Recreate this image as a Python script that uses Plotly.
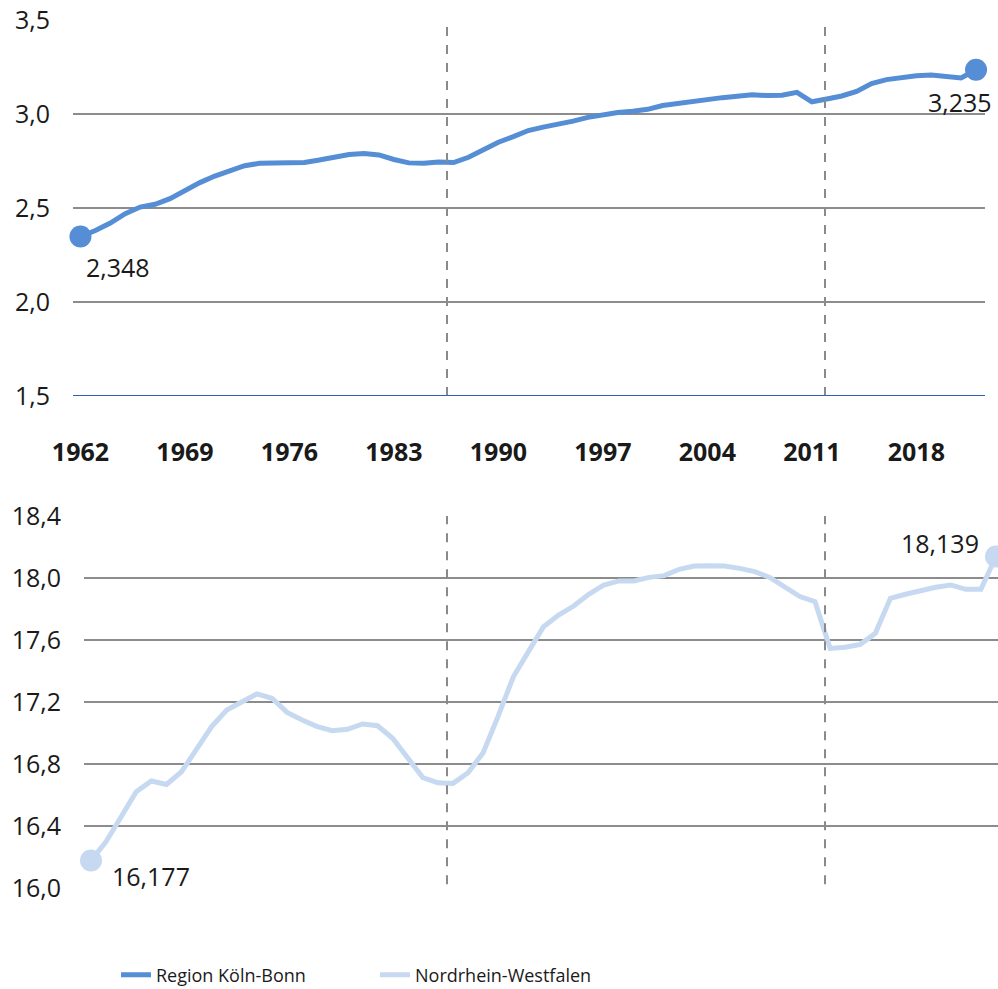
import plotly.graph_objects as go

years = list(range(1962, 2023))

koeln_bonn = [
    2.348, 2.380, 2.420, 2.470, 2.505, 2.520, 2.550, 2.595, 2.635, 2.670,
    2.700, 2.725, 2.738, 2.738, 2.740, 2.742, 2.755, 2.770, 2.785, 2.790,
    2.782, 2.758, 2.740, 2.738, 2.745, 2.742, 2.770, 2.810, 2.850, 2.880,
    2.912, 2.930, 2.945, 2.962, 2.982, 2.998, 3.008, 3.015, 3.025, 3.045,
    3.057, 3.065, 3.075, 3.087, 3.095, 3.102, 3.098, 3.100, 3.115, 3.065,
    3.080, 3.096, 3.120, 3.162, 3.183, 3.196, 3.204, 3.207, 3.200, 3.192,
    3.235,
]

nrw = [
    16.177, 16.299, 16.460, 16.621, 16.690, 16.668, 16.750, 16.901, 17.041, 17.148,
    17.202, 17.252, 17.224, 17.133, 17.084, 17.041, 17.015, 17.024, 17.058, 17.047,
    16.966, 16.837, 16.712, 16.679, 16.675, 16.744, 16.873, 17.110, 17.363, 17.525,
    17.686, 17.761, 17.819, 17.895, 17.955, 17.981, 17.981, 18.004, 18.015, 18.056,
    18.077, 18.079, 18.077, 18.062, 18.041, 18.004, 17.944, 17.880, 17.847, 17.546,
    17.553, 17.572, 17.643, 17.869, 17.895, 17.918, 17.940, 17.955, 17.927, 17.927,
    18.139,
]

top_ticks = [1.5, 2.0, 2.5, 3.0, 3.5]
top_ticklabels = ["1,5", "2,0", "2,5", "3,0", "3,5"]
bottom_ticks = [16.0, 16.4, 16.8, 17.2, 17.6, 18.0, 18.4]
bottom_ticklabels = ["16,0", "16,4", "16,8", "17,2", "17,6", "18,0", "18,4"]
x_ticks = [1962, 1969, 1976, 1983, 1990, 1997, 2004, 2011, 2018]

name_top = "Region Köln-Bonn"
name_bottom = "Nordrhein-Westfalen"

C_TOP = "#558ED5"
C_BOT = "#C6D9F1"
GRID = "#8C8C8C"
TXT = "#1A1A1A"
FONT = "Open Sans, Noto Sans, sans-serif"

W, H = 998, 989


def fmt(v):
    return f"{v:.3f}".replace(".", ",")


fig = go.Figure()

fig.add_trace(go.Scatter(
    x=years, y=koeln_bonn, mode="lines", name=name_top,
    line=dict(color=C_TOP, width=5), xaxis="x", yaxis="y", showlegend=True,
))
fig.add_trace(go.Scatter(
    x=[years[0], years[-1]], y=[koeln_bonn[0], koeln_bonn[-1]], mode="markers",
    marker=dict(color=C_TOP, size=22), xaxis="x", yaxis="y", showlegend=False,
    cliponaxis=False, hoverinfo="skip",
))
fig.add_trace(go.Scatter(
    x=years, y=nrw, mode="lines", name=name_bottom,
    line=dict(color=C_BOT, width=5), xaxis="x2", yaxis="y2", showlegend=True,
))
fig.add_trace(go.Scatter(
    x=[years[0], years[-1]], y=[nrw[0], nrw[-1]], mode="markers",
    marker=dict(color=C_BOT, size=22), xaxis="x2", yaxis="y2", showlegend=False,
    cliponaxis=False, hoverinfo="skip",
))

annos = [
    dict(x=years[0], y=koeln_bonn[0], xref="x", yref="y", text=fmt(koeln_bonn[0]),
         xanchor="left", yanchor="middle", xshift=4, yshift=-30),
    dict(x=years[-1], y=koeln_bonn[-1], xref="x", yref="y", text=fmt(koeln_bonn[-1]),
         xanchor="right", yanchor="middle", xshift=18, yshift=-32),
    dict(x=years[0], y=nrw[0], xref="x2", yref="y2", text=fmt(nrw[0]),
         xanchor="left", yanchor="middle", xshift=19, yshift=-15),
    dict(x=years[-1], y=nrw[-1], xref="x2", yref="y2", text=fmt(nrw[-1]),
         xanchor="right", yanchor="middle", xshift=-15, yshift=13),
]
for a in annos:
    a.update(showarrow=False, font=dict(family=FONT, size=25, color=TXT))

# vertical dashed divider lines (pixel positions of the reference)
divider_px = [447, 825]
shapes = []
for px in divider_px:
    shapes.append(dict(type="line", xref="paper", x0=px / W, x1=px / W,
                       yref="y domain", y0=0, y1=0.99,
                       line=dict(color="#8A8A8A", width=2, dash="dash")))
    shapes.append(dict(type="line", xref="paper", x0=px / W, x1=px / W,
                       yref="y2 domain", y0=0.01, y1=1,
                       line=dict(color="#8A8A8A", width=2, dash="dash")))

fig.update_layout(
    template="none",
    width=W, height=H,
    margin=dict(l=0, r=0, t=0, b=0, autoexpand=False),
    paper_bgcolor="white", plot_bgcolor="white",
    font=dict(family=FONT, size=25, color=TXT),
    annotations=annos, shapes=shapes,
    xaxis=dict(domain=[73 / W, 985 / W], range=[1961.5, 2022.6],
               tickvals=x_ticks, ticktext=[str(t) for t in x_ticks],
               tickfont=dict(family=FONT, size=25, color=TXT, weight="bold"),
               showgrid=False, zeroline=False, showline=False, automargin=False,
               ticks="", ticklabelstandoff=39, anchor="y"),
    yaxis=dict(domain=[1 - 396 / H, 1 - 20 / H], range=[1.5, 3.5],
               tickvals=top_ticks, ticktext=top_ticklabels,
               showgrid=True, gridcolor=GRID, gridwidth=1.5, automargin=False,
               zeroline=False, showline=False, ticks="",
               ticklabelstandoff=22, anchor="x"),
    xaxis2=dict(domain=[84 / W, 1.0], range=[1961.536, 2022.133],
                showticklabels=False, showgrid=False, zeroline=False, automargin=False,
                showline=False, ticks="", anchor="y2"),
    yaxis2=dict(domain=[1 - 888 / H, 1 - 516 / H], range=[16.0, 18.4],
                tickvals=bottom_ticks, ticktext=bottom_ticklabels,
                showgrid=True, gridcolor=GRID, gridwidth=1.5, automargin=False,
                zeroline=False, showline=False, ticks="",
                ticklabelstandoff=22, anchor="x2"),
    legend=dict(orientation="h", x=116 / W, xanchor="left", y=1 - 975 / H,
                yanchor="middle", entrywidth=214, entrywidthmode="pixels",
                font=dict(family=FONT, size=18, color=TXT),
                itemwidth=30, tracegroupgap=0, bgcolor="rgba(0,0,0,0)"),
)

# blue base line of the upper panel
fig.add_shape(type="line", xref="x domain", yref="y", x0=0, x1=1, y0=1.5, y1=1.5,
              line=dict(color="#2B63B5", width=2))

fig.write_html("out.html", config={"displayModeBar": False},
               post_script="document.body.style.margin='0';")
